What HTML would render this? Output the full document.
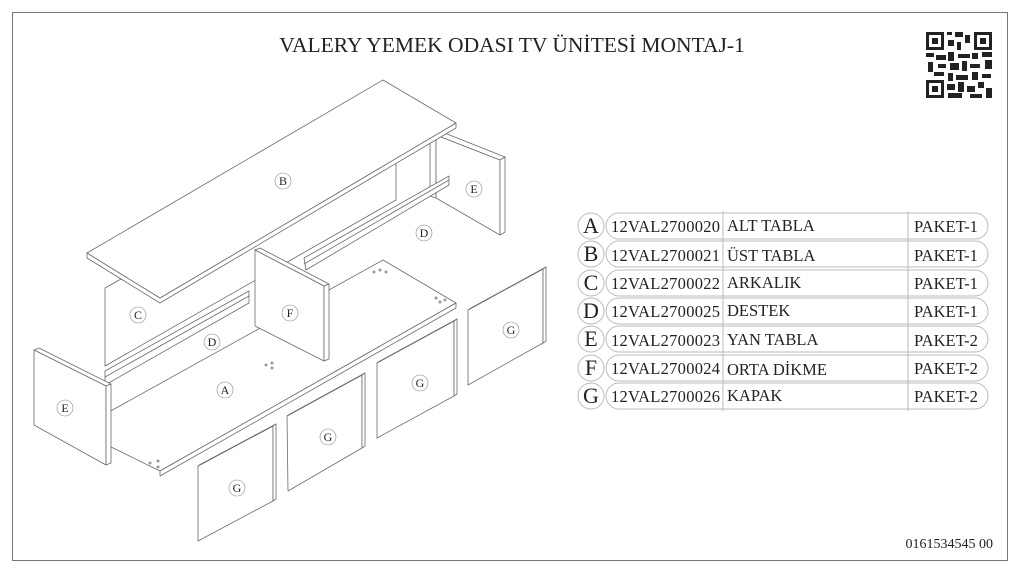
<!DOCTYPE html>
<html><head><meta charset="utf-8"><style>
body{margin:0;background:#fff;}
svg{display:block}
text{font-family:"Liberation Serif",serif;fill:#222}
</style></head><body>
<svg width="1024" height="576" viewBox="0 0 1024 576" xmlns="http://www.w3.org/2000/svg">
<rect x="12.5" y="12.5" width="995" height="548" fill="none" stroke="#777" stroke-width="1"/>
<text x="512" y="52" font-size="21.5" text-anchor="middle">VALERY YEMEK ODASI TV ÜNİTESİ MONTAJ-1</text>
<!-- QR -->
<g fill="#222">
<rect x="926" y="32" width="18" height="18"/><rect x="929" y="35" width="12" height="12" fill="#fff"/><rect x="932" y="38" width="6" height="6"/>
<rect x="974" y="32" width="18" height="18"/><rect x="977" y="35" width="12" height="12" fill="#fff"/><rect x="980" y="38" width="6" height="6"/>
<rect x="926" y="80" width="18" height="18"/><rect x="929" y="83" width="12" height="12" fill="#fff"/><rect x="932" y="86" width="6" height="6"/>
<rect x="947" y="32" width="5" height="3"/><rect x="955" y="32" width="8" height="5"/><rect x="965" y="35" width="5" height="8"/><rect x="948" y="40" width="6" height="6"/><rect x="957" y="42" width="4" height="8"/>
<rect x="926" y="53" width="8" height="4"/><rect x="936" y="55" width="10" height="5"/><rect x="948" y="52" width="6" height="9"/><rect x="958" y="54" width="12" height="4"/><rect x="972" y="53" width="6" height="6"/><rect x="982" y="52" width="10" height="5"/>
<rect x="928" y="62" width="5" height="10"/><rect x="938" y="64" width="8" height="4"/><rect x="950" y="63" width="9" height="7"/><rect x="962" y="61" width="5" height="10"/><rect x="970" y="64" width="10" height="4"/><rect x="985" y="60" width="7" height="9"/>
<rect x="934" y="72" width="10" height="4"/><rect x="948" y="73" width="5" height="8"/><rect x="956" y="75" width="12" height="5"/><rect x="972" y="72" width="6" height="8"/><rect x="982" y="74" width="9" height="4"/>
<rect x="947" y="84" width="8" height="6"/><rect x="958" y="82" width="6" height="10"/><rect x="967" y="86" width="8" height="6"/><rect x="978" y="82" width="6" height="6"/><rect x="986" y="88" width="6" height="10"/><rect x="948" y="93" width="14" height="5"/><rect x="970" y="94" width="12" height="4"/>
</g>
<!-- drawing -->
<g fill="#fff" stroke="#6a6a6a" stroke-width="0.8" stroke-linejoin="round">
<polygon points="105,288 396,125 396,200 105,366"/>
<polygon points="430,133 436,135 436,198 430,196"/>
<polygon points="436,135 500,160 500,235 436,198"/>
<polygon points="436,135 442,132 505,157 500,160"/>
<polygon points="500,160 505,157 505,232 500,235"/>
<polygon points="87,253 87,258 160,303 456,128 456,123 160,298"/>
<polygon points="87,253 383,80 456,123 160,298"/>
<polygon points="107,445 107,413 383,260 456,303 160,471"/>
<polygon points="160,471 456,303 456,308 160,476"/>
<polygon points="304,258 449,176 449,185 306,270"/>
<line x1="304" y1="264" x2="449" y2="180"/>
<polygon points="105,371 249,291 249,303 105,385"/>
<line x1="105" y1="377" x2="249" y2="296"/>
<polygon points="255,250 260,248 329,284 324,286"/>
<polygon points="255,250 324,286 324,361 255,326"/>
<polygon points="324,286 329,284 329,359 324,361"/>
<polygon points="34,350 39,348 111,384 106,386"/>
<polygon points="34,350 106,386 106,465 34,425"/>
<polygon points="106,386 111,384 111,463 106,465"/>
<polygon points="198,466 273,426 273,501 198,541"/>
<polygon points="198,466 201,464 276,424 273,426"/><polygon points="273,426 276,424 276,499 273,501"/>
<polygon points="287,416 362,375 362,448 288,491"/>
<polygon points="287,416 290,414 365,373 362,375"/><polygon points="362,375 365,373 365,446 362,448"/>
<polygon points="377,363 454,321 454,396 377,438"/>
<polygon points="377,363 380,361 457,319 454,321"/><polygon points="454,321 457,319 457,394 454,396"/>
<polygon points="468,310 543,269 543,343 468,385"/>
<polygon points="468,310 471,308 546,267 543,269"/><polygon points="543,269 546,267 546,341 543,343"/>
</g>
<g fill="#999">
<circle cx="266" cy="365" r="1.5"/><circle cx="272" cy="363" r="1.5"/><circle cx="272" cy="368" r="1.5"/>
<circle cx="374" cy="272" r="1.5"/><circle cx="380" cy="270" r="1.5"/><circle cx="386" cy="272" r="1.5"/>
<circle cx="436" cy="298" r="1.5"/><circle cx="440" cy="302" r="1.5"/><circle cx="445" cy="300" r="1.5"/>
<circle cx="150" cy="463" r="1.5"/><circle cx="158" cy="461" r="1.5"/><circle cx="158" cy="467" r="1.5"/>
</g>
<g stroke="#888" stroke-width="0.6" fill="#fff">
<circle cx="283" cy="181" r="8"/><circle cx="474" cy="189" r="8"/><circle cx="424" cy="233" r="8"/>
<circle cx="138" cy="315" r="8"/><circle cx="290" cy="313" r="8"/><circle cx="212" cy="342" r="8"/>
<circle cx="225" cy="390" r="8"/><circle cx="65" cy="408" r="8"/><circle cx="237" cy="488" r="8"/>
<circle cx="328" cy="437" r="8"/><circle cx="420" cy="383" r="8"/><circle cx="511" cy="330" r="8"/>
</g>
<g font-size="12" text-anchor="middle">
<text x="283" y="185">B</text><text x="474" y="193">E</text><text x="424" y="237">D</text>
<text x="138" y="319">C</text><text x="290" y="317">F</text><text x="212" y="346">D</text>
<text x="225" y="394">A</text><text x="65" y="412">E</text><text x="237" y="492">G</text>
<text x="328" y="441">G</text><text x="420" y="387">G</text><text x="511" y="334">G</text>
</g>
<!-- table -->
<g fill="none" stroke="#bbb" stroke-width="1">
<circle cx="591" cy="226" r="13"/><rect x="606" y="213" width="382" height="26" rx="13"/>
<circle cx="591" cy="254" r="13"/><rect x="606" y="241" width="382" height="26" rx="13"/>
<circle cx="591" cy="283" r="13"/><rect x="606" y="270" width="382" height="26" rx="13"/>
<circle cx="591" cy="311" r="13"/><rect x="606" y="298" width="382" height="26" rx="13"/>
<circle cx="591" cy="339" r="13"/><rect x="606" y="326" width="382" height="26" rx="13"/>
<circle cx="591" cy="368" r="13"/><rect x="606" y="355" width="382" height="26" rx="13"/>
<circle cx="591" cy="396" r="13"/><rect x="606" y="383" width="382" height="26" rx="13"/>
<line x1="723" y1="211" x2="723" y2="411"/><line x1="908" y1="211" x2="908" y2="411"/>
</g>
<g font-size="22" text-anchor="middle">
<text x="591" y="233">A</text><text x="591" y="261">B</text><text x="591" y="290">C</text><text x="591" y="318">D</text><text x="591" y="346">E</text><text x="591" y="375">F</text><text x="591" y="403">G</text>
</g>
<g font-size="16.5">
<text x="611" y="232" textLength="109">12VAL2700020</text><text x="611" y="261" textLength="109">12VAL2700021</text><text x="611" y="289" textLength="109">12VAL2700022</text><text x="611" y="317" textLength="109">12VAL2700025</text><text x="611" y="346" textLength="109">12VAL2700023</text><text x="611" y="374" textLength="109">12VAL2700024</text><text x="611" y="402" textLength="109">12VAL2700026</text>
<text x="727" y="231">ALT TABLA</text><text x="727" y="261">ÜST TABLA</text><text x="727" y="288">ARKALIK</text><text x="727" y="316">DESTEK</text><text x="727" y="345">YAN TABLA</text><text x="727" y="375">ORTA DİKME</text><text x="727" y="401">KAPAK</text>
<text x="914" y="232">PAKET-1</text><text x="914" y="261">PAKET-1</text><text x="914" y="289">PAKET-1</text><text x="914" y="317">PAKET-1</text><text x="914" y="346">PAKET-2</text><text x="914" y="374">PAKET-2</text><text x="914" y="402">PAKET-2</text>
</g>
<text x="993" y="548" font-size="14" text-anchor="end">0161534545 00</text>
</svg>
</body></html>
